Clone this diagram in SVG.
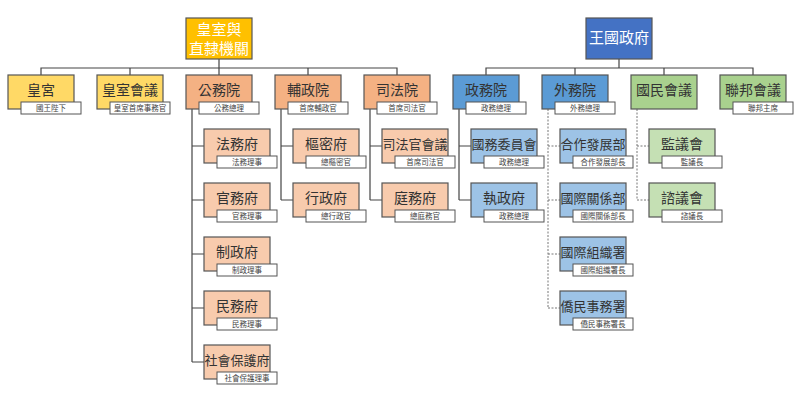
<svg xmlns="http://www.w3.org/2000/svg" width="800" height="403" viewBox="0 0 800 403">
<style>
text{font-family:"Noto Sans CJK TC","Noto Sans CJK SC",sans-serif;text-anchor:middle}
.b{stroke:#555;stroke-width:1.2}
.t{font-size:14px;fill:#333}
.t5{font-size:13px;fill:#333}
.tw{font-size:15px;fill:#fff}
.s{fill:#fff;stroke:#555;stroke-width:1}
.st{font-size:7.5px;fill:#444}
.l{stroke:#444;stroke-width:1.2;fill:none}
.d{stroke:#777;stroke-width:1;fill:none;stroke-dasharray:2 1.5}
</style>
<g id="connectors">
<path class="l" d="M219 59V68M41 75V68H397V75M130 68V75M219 68V75M308 68V75"/>
<path class="l" d="M619 59V68M486 75V68H753V75M575 68V75M664 68V75"/>
<path class="l" d="M192 109V362M192 146H204M192 200H204M192 254H204M192 308H204M192 362H204"/>
<path class="l" d="M281 109V200M281 146H293M281 200H293"/>
<path class="l" d="M370 109V200M370 146H382M370 200H382"/>
<path class="l" d="M459 109V200M459 146H471M459 200H471"/>
<path class="d" d="M548 109V308M548 146H560M548 200H560M548 254H560M548 308H560"/>
<path class="d" d="M637 109V200M637 146H649M637 200H649"/>
</g>
<g id="top1"><rect x="186" y="18" width="66" height="41" fill="#FFC000" class="b"/><text class="tw" x="219" y="35">皇室與</text><text class="tw" x="219" y="54">直隸機關</text></g>
<g id="top2"><rect x="586" y="18" width="66" height="41" fill="#4472C4" class="b"/><text class="tw" x="619" y="43">王國政府</text></g>
<g id="n1"><rect x="8" y="75" width="66" height="34" fill="#FFD966" class="b"/><text class="t" x="41" y="95">皇宮</text><rect x="21" y="102" width="60" height="12" class="s"/><text class="st" x="51" y="111">國王陛下</text></g>
<g id="n2"><rect x="97" y="75" width="66" height="34" fill="#FFD966" class="b"/><text class="t" x="130" y="95">皇室會議</text><rect x="110" y="102" width="60" height="12" class="s"/><text class="st" x="140" y="111">皇室首席事務官</text></g>
<g id="n3"><rect x="186" y="75" width="66" height="34" fill="#F4B183" class="b"/><text class="t" x="219" y="95">公務院</text><rect x="199" y="102" width="60" height="12" class="s"/><text class="st" x="229" y="111">公務總理</text></g>
<g id="n4"><rect x="275" y="75" width="66" height="34" fill="#F4B183" class="b"/><text class="t" x="308" y="95">輔政院</text><rect x="288" y="102" width="60" height="12" class="s"/><text class="st" x="318" y="111">首席輔政官</text></g>
<g id="n5"><rect x="364" y="75" width="66" height="34" fill="#F4B183" class="b"/><text class="t" x="397" y="95">司法院</text><rect x="377" y="102" width="60" height="12" class="s"/><text class="st" x="407" y="111">首席司法官</text></g>
<g id="n6"><rect x="453" y="75" width="66" height="34" fill="#5B9BD5" class="b"/><text class="t" x="486" y="95">政務院</text><rect x="466" y="102" width="60" height="12" class="s"/><text class="st" x="496" y="111">政務總理</text></g>
<g id="n7"><rect x="542" y="75" width="66" height="34" fill="#5B9BD5" class="b"/><text class="t" x="575" y="95">外務院</text><rect x="555" y="102" width="60" height="12" class="s"/><text class="st" x="585" y="111">外務總理</text></g>
<g id="n8"><rect x="631" y="75" width="66" height="34" fill="#A9D18E" class="b"/><text class="t" x="664" y="95">國民會議</text></g>
<g id="n9"><rect x="720" y="75" width="66" height="34" fill="#A9D18E" class="b"/><text class="t" x="753" y="95">聯邦會議</text><rect x="733" y="102" width="60" height="12" class="s"/><text class="st" x="763" y="111">聯邦主席</text></g>
<g id="c1"><rect x="204" y="129" width="66" height="34" fill="#F8CBAD" class="b"/><text class="t" x="237" y="149">法務府</text><rect x="217" y="156" width="60" height="12" class="s"/><text class="st" x="247" y="165">法務理事</text></g>
<g id="c2"><rect x="204" y="183" width="66" height="34" fill="#F8CBAD" class="b"/><text class="t" x="237" y="203">官務府</text><rect x="217" y="210" width="60" height="12" class="s"/><text class="st" x="247" y="219">官務理事</text></g>
<g id="c3"><rect x="204" y="237" width="66" height="34" fill="#F8CBAD" class="b"/><text class="t" x="237" y="257">制政府</text><rect x="217" y="264" width="60" height="12" class="s"/><text class="st" x="247" y="273">制政理事</text></g>
<g id="c4"><rect x="204" y="291" width="66" height="34" fill="#F8CBAD" class="b"/><text class="t" x="237" y="311">民務府</text><rect x="217" y="318" width="60" height="12" class="s"/><text class="st" x="247" y="327">民務理事</text></g>
<g id="c5"><rect x="204" y="345" width="66" height="34" fill="#F8CBAD" class="b"/><text class="t5" x="237" y="365">社會保護府</text><rect x="217" y="372" width="60" height="12" class="s"/><text class="st" x="247" y="381">社會保護理事</text></g>
<g id="c6"><rect x="293" y="129" width="66" height="34" fill="#F8CBAD" class="b"/><text class="t" x="326" y="149">樞密府</text><rect x="306" y="156" width="60" height="12" class="s"/><text class="st" x="336" y="165">總樞密官</text></g>
<g id="c7"><rect x="293" y="183" width="66" height="34" fill="#F8CBAD" class="b"/><text class="t" x="326" y="203">行政府</text><rect x="306" y="210" width="60" height="12" class="s"/><text class="st" x="336" y="219">總行政官</text></g>
<g id="c8"><rect x="382" y="129" width="66" height="34" fill="#F8CBAD" class="b"/><text class="t5" x="415" y="149">司法官會議</text><rect x="395" y="156" width="60" height="12" class="s"/><text class="st" x="425" y="165">首席司法官</text></g>
<g id="c9"><rect x="382" y="183" width="66" height="34" fill="#F8CBAD" class="b"/><text class="t" x="415" y="203">庭務府</text><rect x="395" y="210" width="60" height="12" class="s"/><text class="st" x="425" y="219">總庭務官</text></g>
<g id="c10"><rect x="471" y="129" width="66" height="34" fill="#9DC3E6" class="b"/><text class="t5" x="504" y="149">國務委員會</text><rect x="484" y="156" width="60" height="12" class="s"/><text class="st" x="514" y="165">政務總理</text></g>
<g id="c11"><rect x="471" y="183" width="66" height="34" fill="#9DC3E6" class="b"/><text class="t" x="504" y="203">執政府</text><rect x="484" y="210" width="60" height="12" class="s"/><text class="st" x="514" y="219">政務總理</text></g>
<g id="c12"><rect x="560" y="129" width="66" height="34" fill="#9DC3E6" class="b"/><text class="t5" x="593" y="149">合作發展部</text><rect x="573" y="156" width="60" height="12" class="s"/><text class="st" x="603" y="165">合作發展部長</text></g>
<g id="c13"><rect x="560" y="183" width="66" height="34" fill="#9DC3E6" class="b"/><text class="t5" x="593" y="203">國際關係部</text><rect x="573" y="210" width="60" height="12" class="s"/><text class="st" x="603" y="219">國際關係部長</text></g>
<g id="c14"><rect x="560" y="237" width="66" height="34" fill="#9DC3E6" class="b"/><text class="t5" x="593" y="257">國際組織署</text><rect x="573" y="264" width="60" height="12" class="s"/><text class="st" x="603" y="273">國際組織署長</text></g>
<g id="c15"><rect x="560" y="291" width="66" height="34" fill="#9DC3E6" class="b"/><text class="t5" x="593" y="311">僑民事務署</text><rect x="573" y="318" width="60" height="12" class="s"/><text class="st" x="603" y="327">僑民事務署長</text></g>
<g id="c16"><rect x="649" y="129" width="66" height="34" fill="#C5E0B4" class="b"/><text class="t" x="682" y="149">監議會</text><rect x="662" y="156" width="60" height="12" class="s"/><text class="st" x="692" y="165">監議長</text></g>
<g id="c17"><rect x="649" y="183" width="66" height="34" fill="#C5E0B4" class="b"/><text class="t" x="682" y="203">諮議會</text><rect x="662" y="210" width="60" height="12" class="s"/><text class="st" x="692" y="219">諮議長</text></g>
</svg>
